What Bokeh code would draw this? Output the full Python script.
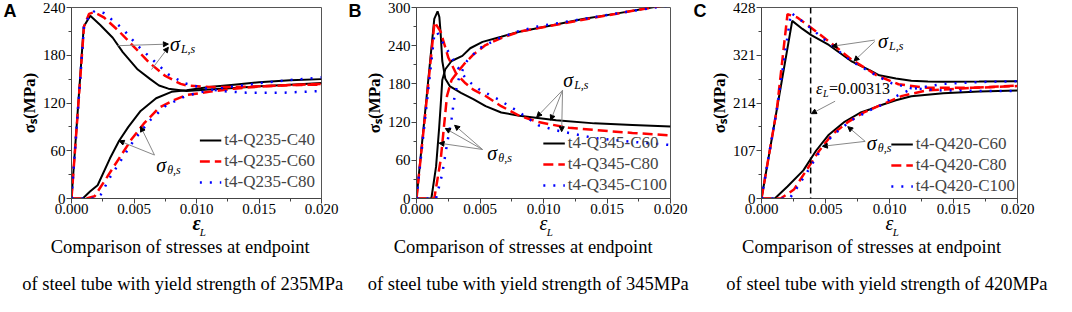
import math
from bokeh.plotting import figure
from bokeh.layouts import row
from bokeh.models import (Label, Arrow, NormalHead, Span, Legend, LegendItem,
                          FixedTicker, Range1d, NumeralTickFormatter, LinearAxis)
from bokeh.embed import file_html
from bokeh.resources import INLINE

# ---------------- data (strain eps_L, stress MPa) ----------------
# Panel A : Q235
A_c40_L_x = [0, 0.00098, 0.0015, 0.0023, 0.0033, 0.0041, 0.0053, 0.0063, 0.0070, 0.00775, 0.0092, 0.0110, 0.0130, 0.0150, 0.0175, 0.0200]
A_c40_L_y = [0, 216, 229.5, 218, 202, 184, 162, 150, 142, 138, 135, 137, 139, 141, 143, 145]
A_c40_T_x = [0, 0.0009, 0.00148, 0.00209, 0.00308, 0.00381, 0.00455, 0.00553, 0.00677, 0.0080, 0.0092, 0.0110, 0.0130, 0.0150, 0.0175, 0.0200]
A_c40_T_y = [0, 0, 8.7, 16.7, 50.5, 72.5, 90, 110, 126, 134, 136, 140, 143, 146, 148.5, 150]
A_c60_L_x = [0, 0.0010, 0.0014, 0.0018, 0.00258, 0.00381, 0.00504, 0.00627, 0.0075, 0.00873, 0.0092, 0.0110, 0.0130, 0.0150, 0.0175, 0.0200]
A_c60_L_y = [0, 216, 232, 234, 227.7, 210, 190, 170, 154, 144, 142, 140, 140, 141, 142.5, 144]
A_c60_T_x = [0, 0.0012, 0.00185, 0.00283, 0.00381, 0.0048, 0.00578, 0.0070, 0.00824, 0.0092, 0.0110, 0.0130, 0.0150, 0.0175, 0.0200]
A_c60_T_y = [0, 0, 2.8, 26.6, 50.5, 74.4, 94, 114, 124, 130, 134, 138, 140.5, 142.5, 143]
A_c80_L_x = [0, 0.0010, 0.0015, 0.0019, 0.00258, 0.00406, 0.00529, 0.00652, 0.00775, 0.0090, 0.0105, 0.0120, 0.0140, 0.0170, 0.0200]
A_c80_L_y = [0, 216, 232, 236, 233, 214, 192, 174, 156, 145, 139, 135, 133, 133, 135]
A_c80_T_x = [0, 0.0020, 0.00234, 0.00308, 0.00406, 0.00504, 0.00627, 0.0075, 0.00873, 0.0092, 0.0110, 0.0130, 0.0150, 0.0175, 0.0200]
A_c80_T_y = [0, 0, 4.8, 26.6, 50.5, 74.4, 98, 116, 126, 129, 136, 141, 145, 149, 152]

# Panel B : Q345
B_c60_L_x = [0, 0.0007, 0.0014, 0.00166, 0.0018, 0.0019, 0.00203, 0.00227, 0.00264, 0.0035, 0.00447, 0.00544, 0.00667, 0.0081, 0.0110, 0.0140, 0.0170, 0.0200]
B_c60_L_y = [0, 140, 282, 294, 285, 260, 216, 188, 176, 166, 156, 145, 135, 130, 123, 118, 115.5, 113]
B_c60_T_x = [0, 0.00117, 0.00154, 0.00178, 0.0019, 0.00203, 0.00227, 0.00276, 0.00361, 0.00423, 0.0052, 0.00667, 0.0081, 0.0107, 0.0131, 0.0156, 0.0185, 0.0200]
B_c60_T_y = [0, 0, 50, 110, 145, 186, 203, 216, 224, 236, 246, 254, 262, 272, 282, 290, 300, 305]
B_c80_L_x = [0, 0.0007, 0.00142, 0.0019, 0.00251, 0.00313, 0.00386, 0.00447, 0.00544, 0.00667, 0.0081, 0.0096, 0.0120, 0.0140, 0.0170, 0.0200]
B_c80_L_y = [0, 135, 277, 262, 221, 196, 181, 171, 161, 145, 130, 120, 111, 107.6, 103, 99]
B_c80_T_x = [0, 0.0014, 0.0019, 0.00215, 0.0024, 0.00276, 0.00313, 0.00374, 0.00447, 0.00544, 0.00667, 0.0081, 0.0110, 0.0140, 0.0185, 0.0200]
B_c80_T_y = [0, 0, 60, 110, 161, 186, 196, 211, 226, 241, 252, 262, 273, 284, 300, 305]
B_c100_L_x = [0, 0.0007, 0.0014, 0.0016, 0.00203, 0.00264, 0.00325, 0.00398, 0.00496, 0.00642, 0.00789, 0.0087, 0.0096, 0.0110, 0.0140, 0.0170, 0.0200]
B_c100_L_y = [0, 130, 257, 262, 246, 226, 206, 186, 171, 156, 138, 127, 115, 107, 95, 89, 84]
B_c100_T_x = [0, 0.00154, 0.00203, 0.0024, 0.00276, 0.0030, 0.00337, 0.00398, 0.00496, 0.00642, 0.00789, 0.0095, 0.0131, 0.0165, 0.0187, 0.0200]
B_c100_T_y = [0, 0, 39, 85, 125, 161, 191, 216, 236, 251, 262, 270, 282, 293, 300, 303]

# Panel C : Q420
C_c60_L_x = [0, 0.0012, 0.0024, 0.0032, 0.00389, 0.00526, 0.0070, 0.00848, 0.0092, 0.0105, 0.0117, 0.0130, 0.0142, 0.0170, 0.0200]
C_c60_L_y = [0, 200, 398, 380, 366, 344, 308, 287, 276, 269, 264, 262, 261.6, 262, 263]
C_c60_T_x = [0, 0.00104, 0.00203, 0.00327, 0.00426, 0.00526, 0.00649, 0.0077, 0.0085, 0.0092, 0.0105, 0.0117, 0.0142, 0.0170, 0.0200]
C_c60_T_y = [0, 0, 27, 63, 107, 143, 172, 192, 200, 208, 220, 229, 236, 239.5, 242]
C_c80_L_x = [0, 0.0012, 0.00203, 0.00277, 0.0035, 0.00526, 0.0070, 0.0090, 0.0107, 0.0129, 0.0166, 0.0200]
C_c80_L_y = [0, 200, 413, 406, 391, 352, 312, 276, 256, 248, 248, 252]
C_c80_T_x = [0, 0.0015, 0.00253, 0.0035, 0.00451, 0.0055, 0.00674, 0.0080, 0.0092, 0.0110, 0.0129, 0.0166, 0.0200]
C_c80_T_y = [0, 0, 20, 63, 107, 143, 171, 193, 208, 230, 242, 248, 253]
C_c100_L_x = [0, 0.0012, 0.0023, 0.0033, 0.00526, 0.0070, 0.0092, 0.0102, 0.0117, 0.0142, 0.0170, 0.0200]
C_c100_L_y = [0, 200, 416, 395, 348, 308, 272, 258, 247, 242, 241, 241]
C_c100_T_x = [0, 0.0022, 0.00277, 0.0035, 0.00451, 0.0055, 0.0070, 0.00848, 0.0092, 0.0102, 0.0117, 0.0142, 0.0170, 0.0200]
C_c100_T_y = [0, 0, 24, 56, 103, 140, 175, 198, 207, 225, 245, 257, 261, 263]

x_ticks = [0, 0.005, 0.010, 0.015, 0.020]
A_yticks = [0, 60, 120, 180, 240]
B_yticks = [0, 60, 120, 180, 240, 300]
C_yticks = [0, 107, 214, 321, 428]

A_labels = ["t4-Q235-C40", "t4-Q235-C60", "t4-Q235-C80"]
B_labels = ["t4-Q345-C60", "t4-Q345-C80", "t4-Q345-C100"]
C_labels = ["t4-Q420-C60", "t4-Q420-C80", "t4-Q420-C100"]

cap1 = "Comparison of stresses at endpoint"
A_cap2 = "of steel tube with yield strength of 235MPa"
B_cap2 = "of steel tube with yield strength of 345MPa"
C_cap2 = "of steel tube with yield strength of 420MPa"

SERIF = "'Liberation Serif'"
SANS = "'Liberation Sans'"
H = 296
TOP = 7
BOT = 96
LEFT = 62

STY = [dict(line_color="black", line_width=2),
       dict(line_color="#FF0000", line_width=2.5, line_dash="10 5"),
       dict(line_color="#0000FF", line_width=2.5, line_dash="2 8")]


def lab(p, x, y, text, size, dx=0, dy=0, style="normal", align="left",
        baseline="middle", font=SERIF, color="black"):
    p.add_layout(Label(x=x, y=y, x_offset=dx, y_offset=dy, text=text,
                       text_font=font, text_font_size=f"{size}px",
                       text_font_style=style, text_align=align,
                       text_baseline=baseline, text_color=color))


def sig(p, x, y, sub, size=20):
    lab(p, x, y, "\u03c3", size, style="italic")
    lab(p, x, y, sub, 12, dx=11, dy=-5, style="italic")


def arrow(p, x0, y0, x1, y1):
    p.add_layout(Arrow(x_start=x0, y_start=y0, x_end=x1, y_end=y1,
                       end=NormalHead(size=5, fill_color="black", line_color="black"),
                       line_color="#888888", line_width=1))


def bare_axis(ticks, labels, font, size, style, standoff):
    ax = LinearAxis(ticker=FixedTicker(ticks=ticks),
                    major_label_overrides=dict(zip(ticks, labels)))
    ax.axis_line_color = None
    ax.major_tick_line_color = None
    ax.minor_tick_line_color = None
    ax.major_tick_in = 0
    ax.major_tick_out = 0
    ax.minor_tick_in = 0
    ax.minor_tick_out = 0
    ax.major_label_standoff = standoff
    ax.major_label_text_font = font
    ax.major_label_text_font_size = f"{size}px"
    ax.major_label_text_font_style = style
    ax.major_label_text_color = "black"
    return ax


def panel(width, right, ymax, yticks, series, labels, letter, letter_y,
          cap_x, eps_bold, cap2, leg_margin):
    p = figure(width=width, height=H, output_backend="svg", toolbar_location=None,
               x_range=Range1d(0, 0.02), y_range=Range1d(0, ymax),
               min_border_left=LEFT, min_border_right=right,
               min_border_top=TOP, min_border_bottom=BOT)
    p.grid.visible = False
    p.outline_line_color = "#555555"
    p.background_fill_color = "white"
    p.border_fill_color = "white"
    minors = [(yticks[i] + yticks[i + 1]) / 2 for i in range(len(yticks) - 1)]
    p.xaxis.ticker = FixedTicker(ticks=x_ticks, minor_ticks=[0.0025, 0.0075, 0.0125, 0.0175])
    p.xaxis.formatter = NumeralTickFormatter(format="0.000")
    p.yaxis.ticker = FixedTicker(ticks=yticks, minor_ticks=minors)
    for ax in (p.xaxis[0], p.yaxis[0]):
        ax.axis_line_color = "#444444"
        ax.major_tick_line_color = "#444444"
        ax.minor_tick_line_color = "#444444"
        ax.major_tick_in = 0
        ax.major_tick_out = 5
        ax.minor_tick_in = 0
        ax.minor_tick_out = 3
        ax.major_label_text_font = SERIF
        ax.major_label_text_font_size = "15px"
        ax.major_label_text_font_style = "normal"
        ax.major_label_text_color = "black"
        ax.axis_label_text_font = SERIF
        ax.axis_label_text_color = "black"
    p.xaxis.major_label_standoff = 0
    p.yaxis.major_label_standoff = 1
    # y axis title
    p.yaxis.axis_label = "\u03c3\u209b(MPa)"
    p.yaxis.axis_label_text_font_size = "17px"
    p.yaxis.axis_label_text_font_style = "bold"
    p.yaxis.axis_label_standoff = 1
    # x axis title: epsilon + subscript L (second bare axis)
    p.xaxis.axis_label = "\u03b5"
    p.xaxis.axis_label_text_font_size = "20px"
    p.xaxis.axis_label_text_font_style = "bold italic" if eps_bold else "italic"
    p.xaxis.axis_label_standoff = -5
    p.add_layout(bare_axis([0.0105], ["L"], SERIF, 11, "italic", -11), "below")
    # captions (two lines under the panel)
    p.add_layout(bare_axis([cap_x[0]], [cap1], SERIF, 18.5, "normal", -4), "below")
    p.add_layout(bare_axis([cap_x[1]], [cap2], SERIF, 18.5, "normal", 14), "below")
    # panel letter (outermost left)
    p.add_layout(bare_axis([letter_y], [letter], SANS, 18, "bold", 0), "left")

    rends = []
    for i, (lx, ly, tx, ty) in enumerate(series):
        r = p.line(lx, ly, **STY[i])
        p.line(tx, ty, **STY[i])
        rends.append(r)
    leg = Legend(items=[LegendItem(label=l, renderers=[r]) for l, r in zip(labels, rends)],
                 location="bottom_right", background_fill_alpha=0, border_line_alpha=0,
                 label_text_font=SERIF, label_text_font_size="17px",
                 glyph_width=22, glyph_height=18, label_height=18,
                 label_standoff=3, spacing=1, padding=2, margin=leg_margin)
    p.add_layout(leg)
    return p


pA = panel(345, 24, 240, A_yticks,
           [(A_c40_L_x, A_c40_L_y, A_c40_T_x, A_c40_T_y),
            (A_c60_L_x, A_c60_L_y, A_c60_T_x, A_c60_T_y),
            (A_c80_L_x, A_c80_L_y, A_c80_T_x, A_c80_T_y)],
           A_labels, "A", 236, (0.0087, 0.0089), True, A_cap2, 4)
sig(pA, 0.00787, 194, "L,s")
arrow(pA, 0.00369, 192, 0.00775, 194)
arrow(pA, 0.0064, 162, 0.00775, 190)
sig(pA, 0.00677, 42.6, "\u03b8,s")
arrow(pA, 0.00664, 54.6, 0.00381, 72.5)
arrow(pA, 0.00664, 54.6, 0.00553, 90.4)

pB = panel(345, 20, 300, B_yticks,
           [(B_c60_L_x, B_c60_L_y, B_c60_T_x, B_c60_T_y),
            (B_c80_L_x, B_c80_L_y, B_c80_T_x, B_c80_T_y),
            (B_c100_L_x, B_c100_L_y, B_c100_T_x, B_c100_T_y)],
           B_labels, "B", 295, (0.0084, 0.0088), False, B_cap2, 1)
sig(pB, 0.01155, 186, "L,s")
for ex, ey in [(0.00947, 128), (0.01057, 123), (0.01143, 105)]:
    arrow(pB, 0.0115, 170, ex, ey)
sig(pB, 0.00557, 72, "\u03b8,s")
for ex, ey in [(0.00178, 87), (0.00227, 110), (0.0030, 115)]:
    arrow(pB, 0.0052, 77, ex, ey)

pC = panel(366, 39, 428, C_yticks,
           [(C_c60_L_x, C_c60_L_y, C_c60_T_x, C_c60_T_y),
            (C_c80_L_x, C_c80_L_y, C_c80_T_x, C_c80_T_y),
            (C_c100_L_x, C_c100_L_y, C_c100_T_x, C_c100_T_y)],
           C_labels, "C", 421, (0.0086, 0.0098), False, C_cap2, 0)
sig(pC, 0.0091, 352, "L,s")
arrow(pC, 0.00885, 355, 0.0055, 341)
arrow(pC, 0.00885, 352, 0.00723, 308)
sig(pC, 0.00823, 125, "\u03b8,s")
arrow(pC, 0.0081, 128, 0.00674, 161)
arrow(pC, 0.0081, 128, 0.00476, 117)
pC.add_layout(Span(location=0.00384, dimension="height", line_color="black",
                   line_width=1.5, line_dash="6 4"))
lab(pC, 0.00426, 247, "\u03b5", 17, style="italic")
lab(pC, 0.00426, 247, "L", 10, dx=7, dy=-5, style="italic")
lab(pC, 0.00426, 247, "=0.00313", 16, dx=13)
arrow(pC, 0.00575, 218, 0.0039, 190)

layout = row(pA, pB, pC)
open("out.html", "w").write(file_html(layout, INLINE))
